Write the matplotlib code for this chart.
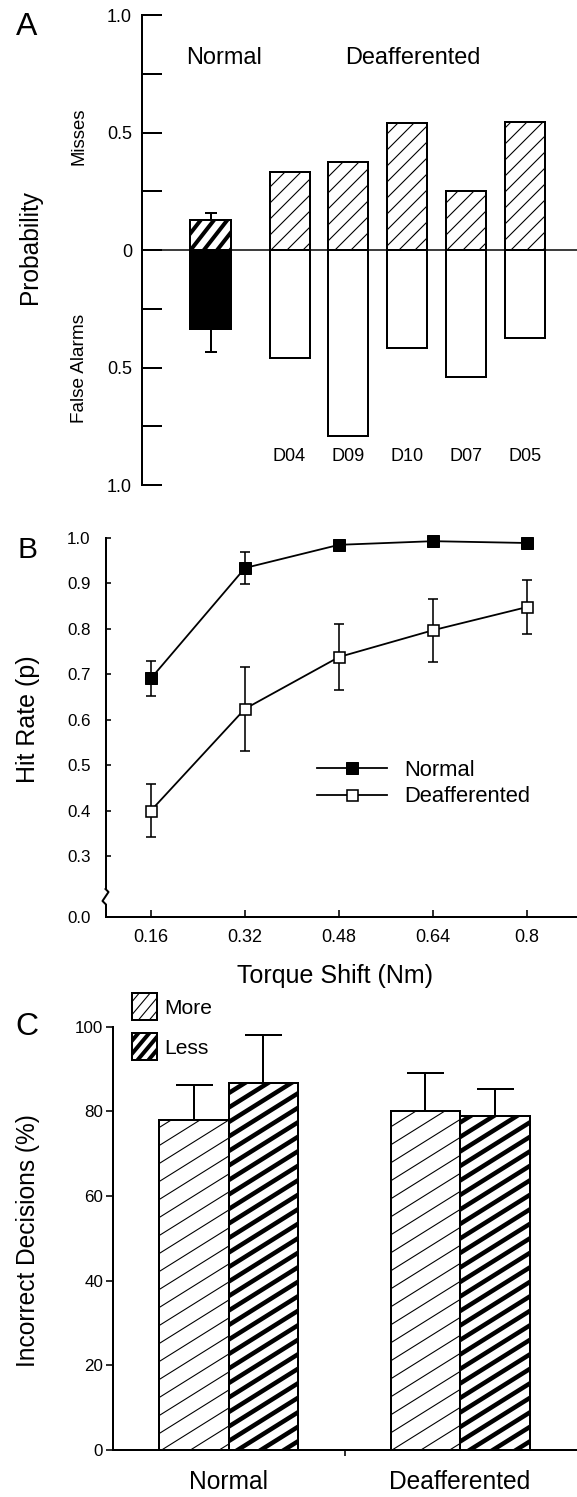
import matplotlib
matplotlib.use("Agg")
import matplotlib.pyplot as plt
import numpy as np
from matplotlib.collections import LineCollection
from matplotlib.patches import Rectangle
from matplotlib.lines import Line2D
from matplotlib.transforms import IdentityTransform

plt.rcParams['font.family'] = ['Liberation Sans', 'DejaVu Sans']

# ---- data ----
# panel A: probability of misses (up) and false alarms (down)
a_subjects = ["D04", "D09", "D10", "D07", "D05"]
a_normal_miss = 0.128
a_normal_miss_err = 0.031
a_normal_fa = 0.336
a_normal_fa_err = 0.097
a_deaff_miss = [0.331, 0.373, 0.540, 0.249, 0.543]
a_deaff_fa = [0.460, 0.790, 0.419, 0.542, 0.376]

# panel B: hit rate vs torque shift
b_torque = [0.16, 0.32, 0.48, 0.64, 0.8]
b_normal = [0.691, 0.934, 0.985, 0.993, 0.989]
b_normal_err = [0.039, 0.036, 0.010, 0.005, 0.005]
b_deaff = [0.400, 0.624, 0.738, 0.797, 0.848]
b_deaff_err = [0.058, 0.092, 0.073, 0.069, 0.060]

# panel C: incorrect decisions
c_groups = ["Normal", "Deafferented"]
c_more = [77.9, 80.1]
c_more_err = [8.4, 9.0]
c_less = [86.8, 78.8]
c_less_err = [11.3, 6.6]

W, H, DPI = 577, 1497, 72
fig = plt.figure(figsize=(W / DPI, H / DPI), dpi=DPI)


def px_axes(l, t, r, b):
    return fig.add_axes([l / W, 1 - b / H, (r - l) / W, (b - t) / H])


def ftext(x, y, s, **kw):
    fig.text(x / W, 1 - y / H, s, **kw)


def hatch(patch, step, angle, lw, parent=None, z=2.5):
    # slanted hatch lines in pixel space, clipped to the patch
    bb = patch.get_window_extent()
    k = np.tan(np.radians(angle))
    x0, x1 = bb.x0 - 3, bb.x1 + 3
    cmin = bb.y0 - k * x1
    cmax = bb.y1 - k * x0
    cs = np.arange(np.floor(cmin / step) * step, cmax + step, step)
    segs = [[(x0, k * x0 + c), (x1, k * x1 + c)] for c in cs]
    lc = LineCollection(segs, colors='black', linewidths=lw,
                        transform=IdentityTransform(), zorder=z)
    if parent is None:
        fig.add_artist(lc)
    else:
        parent.add_collection(lc, autolim=False)
    lc.set_clip_path(patch)


# ================= panel A =================
axA = px_axes(142, 15, 577, 485)
d_pos = 1.34 + np.arange(len(a_subjects))
axA.set_xlim(-1.17, 6.23)
axA.set_ylim(-1, 1)

nm = axA.bar(0, a_normal_miss, 0.69, color='white', edgecolor='black', lw=2)
axA.bar(0, -a_normal_fa, 0.69, color='black', edgecolor='black', lw=2)
dm = axA.bar(d_pos, a_deaff_miss, 0.68, color='white', edgecolor='black', lw=2)
axA.bar(d_pos, -np.array(a_deaff_fa), 0.68, color='white', edgecolor='black', lw=2)
hatch(nm[0], 17, 52, 4, axA)
for p in dm:
    hatch(p, 16, 45, 1.1, axA)

axA.errorbar([0, 0], [a_normal_miss, -a_normal_fa],
             yerr=[[0, a_normal_fa_err], [a_normal_miss_err, 0]],
             fmt='none', ecolor='black', elinewidth=2, capsize=6, capthick=2, zorder=4)
axA.axhline(0, color='black', lw=1.5, zorder=3)

for x, s in zip(d_pos, a_subjects):
    axA.text(x, -0.88, s, ha='center', va='center', fontsize=18)
axA.text(0.22, 0.815, "Normal", ha='center', va='center', fontsize=23.5)
axA.text(3.44, 0.815, "Deafferented", ha='center', va='center', fontsize=23.5)

axA.set_yticks([-1, -0.75, -0.5, -0.25, 0, 0.25, 0.5, 0.75, 1])
axA.set_yticklabels(['1.0', '', '0.5', '', '0', '', '0.5', '', '1.0'])
axA.set_xticks([])
axA.tick_params(axis='y', direction='in', length=20, width=2, pad=10, labelsize=18)
for s in ['top', 'right', 'bottom']:
    axA.spines[s].set_visible(False)
axA.spines['left'].set_linewidth(2)

ftext(27, 27, "A", fontsize=32, ha='center', va='center')
ftext(29.5, 247, "Probability", fontsize=24.5, rotation=90, ha='center', va='center')
ftext(79, 136, "Misses", fontsize=18.5, rotation=90, ha='center', va='center')
ftext(79, 368, "False Alarms", fontsize=19, rotation=90, ha='center', va='center')

# ================= panel B =================
axB = px_axes(105.5, 538, 577, 917)
axB.set_xlim(0.0826, 0.885)
axB.set_ylim(0.1657, 1.0)

cn = axB.errorbar(b_torque, b_normal, yerr=b_normal_err, fmt='-s', color='black',
                  mfc='black', mec='black', ms=12, lw=1.8, elinewidth=1.6,
                  capsize=5, capthick=1.6, clip_on=False, zorder=4)
cd = axB.errorbar(b_torque, b_deaff, yerr=b_deaff_err, fmt='-s', color='black',
                  mfc='white', mec='black', ms=11, mew=1.6, lw=1.8, elinewidth=1.6,
                  capsize=5, capthick=1.6, clip_on=False, zorder=4)

axB.legend([cn[0], cd[0]], ['Normal', 'Deafferented'], loc='upper left',
           bbox_to_anchor=(316.7 / W, 1 - 760 / H), bbox_transform=fig.transFigure,
           frameon=False, fontsize=22, handlelength=3.18, handletextpad=0.8,
           borderpad=0, borderaxespad=0, labelspacing=0.25)

axB.set_xticks(b_torque)
axB.set_xticklabels(['0.16', '0.32', '0.48', '0.64', '0.8'])
axB.set_yticks([0.1657, 0.3, 0.4, 0.5, 0.6, 0.7, 0.8, 0.9, 1.0])
axB.set_yticklabels(['0.0', '0.3', '0.4', '0.5', '0.6', '0.7', '0.8', '0.9', '1.0'])
axB.tick_params(axis='y', direction='in', length=5, width=1.6, pad=15, labelsize=17)
axB.tick_params(axis='x', direction='in', length=7, width=1.6, pad=12, labelsize=18)
for s in ['top', 'right']:
    axB.spines[s].set_visible(False)
for s in ['left', 'bottom']:
    axB.spines[s].set_linewidth(2)

# axis break on the y axis
fig.add_artist(Rectangle((101 / W, 1 - 904 / H), 9 / W, 14 / H, transform=fig.transFigure,
                         facecolor='white', edgecolor='none', zorder=5))
fig.add_artist(Line2D(np.array([105.5, 108.5, 102.5, 105.5]) / W,
                      1 - np.array([889, 892, 901, 904]) / H,
                      transform=fig.transFigure, color='black', lw=2, zorder=6))

ftext(27, 550, "B", fontsize=30, ha='center', va='center')
ftext(28, 719, "Hit Rate (p)", fontsize=25, rotation=90, ha='center', va='center')
ftext(335, 976, "Torque Shift (Nm)", fontsize=25, ha='center', va='center')

# ================= panel C =================
axC = px_axes(113, 1026.7, 577, 1450)
xc = np.arange(len(c_groups))
w = 0.3
axC.set_xlim(-0.499, 1.505)
axC.set_ylim(0, 100)

bm = axC.bar(xc - w / 2, c_more, w, color='white', edgecolor='black', lw=2)
bl = axC.bar(xc + w / 2, c_less, w, color='white', edgecolor='black', lw=2)
for p in bm:
    hatch(p, 18, 32, 1.1, axC)
for p in bl:
    hatch(p, 14.5, 32, 4.5, axC)

axC.errorbar(xc - w / 2, c_more, yerr=[np.zeros(2), c_more_err], fmt='none',
             ecolor='black', elinewidth=2, capsize=18.5, capthick=2, zorder=4)
axC.errorbar(xc + w / 2, c_less, yerr=[np.zeros(2), c_less_err], fmt='none',
             ecolor='black', elinewidth=2, capsize=18.5, capthick=2, zorder=4)

axC.set_xticks(xc)
axC.set_xticklabels(c_groups)
axC.set_xticks([0.503], minor=True)
axC.tick_params(axis='x', which='major', length=0, pad=20, labelsize=24.5)
axC.tick_params(axis='x', which='minor', direction='out', length=6, width=1.6)
axC.set_yticks([0, 20, 40, 60, 80, 100])
axC.tick_params(axis='y', direction='out', length=7, width=1.6, pad=3, labelsize=17)
for s in ['top', 'right']:
    axC.spines[s].set_visible(False)
for s in ['left', 'bottom']:
    axC.spines[s].set_linewidth(2)

# legend boxes
for (y, step, lw, lab) in [(993, 13, 1.1, "More"), (1033, 13, 4, "Less")]:
    r = Rectangle((131.7 / W, 1 - (y + 27) / H), 25 / W, 27 / H, transform=fig.transFigure,
                  facecolor='white', edgecolor='black', lw=2, zorder=3)
    fig.add_artist(r)
    hatch(r, step, 50, lw, z=4)
    ftext(164.7, y + 15, lab, fontsize=21, ha='left', va='center')

ftext(27, 1027, "C", fontsize=32, ha='center', va='center')
ftext(27.6, 1240.7, "Incorrect Decisions (%)", fontsize=24.5, rotation=90,
      ha='center', va='center')

fig.savefig("out.png", dpi=DPI)
